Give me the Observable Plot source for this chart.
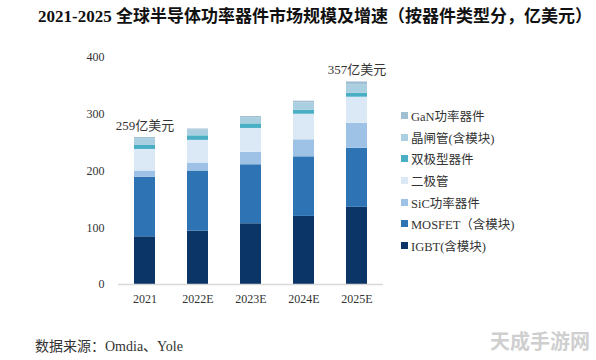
<!DOCTYPE html>
<html><head><meta charset="utf-8">
<script src="https://cdn.jsdelivr.net/npm/d3@7"></script>
<script src="https://cdn.jsdelivr.net/npm/@observablehq/plot@0.6"></script>
<style>
body{margin:0;background:#fff;}
#wrap{position:relative;width:596px;height:360px;overflow:hidden;background:#fff;font-family:"Liberation Serif","Noto Sans CJK SC",serif;}
#title{position:absolute;left:38px;top:2px;font-size:17px;font-weight:bold;color:#111;white-space:nowrap;}
#chart{position:absolute;left:0;top:0;}
#legend{position:absolute;left:401px;top:105px;font-size:12.5px;color:#333;}
#legend .row{height:21.6px;display:flex;align-items:center;white-space:nowrap;}
#legend .sw{width:7px;height:7px;margin-right:3px;}
#source{position:absolute;left:35px;top:335px;font-size:14px;color:#333;white-space:nowrap;}
#wm{position:absolute;left:490px;top:326px;font-size:20px;font-weight:bold;color:#cfcfcf;font-family:"Noto Sans CJK SC",sans-serif;white-space:nowrap;}
</style></head>
<body>
<div id="wrap">
<div id="title">2021-2025 全球半导体功率器件市场规模及增速（按器件类型分，亿美元）</div>
<div id="chart"></div>
<div id="legend"></div>
<div id="source">数据来源：Omdia、Yole</div>
<div id="wm">天成手游网</div>
</div>
<script>
const years = ["2021","2022E","2023E","2024E","2025E"];
const series = ["IGBT(含模块)","MOSFET（含模块)","SiC功率器件","二极管","双极型器件","晶闸管(含模块)","GaN功率器件"];
const colors = ["#0b3566","#2e74b5","#9dc2e5","#dbe9f7","#4aaec4","#a9cfe0","#a0bfd2"];
const igbt    = [84, 94, 107, 120, 136];
const mosfet  = [105, 106, 104, 105, 104];
const sic     = [11, 14, 22, 30, 44];
const diode   = [38, 40, 42, 45, 46];
const bipolar = [7, 8, 8, 7, 7];
const thyristor = [12, 10, 11, 13, 15];
const gan     = [2, 2, 2, 3, 5];
const totals  = [259, 274, 296, 323, 357];
const totalLabels = ["259亿美元", "", "", "", "357亿美元"];
const yTicks = [0, 100, 200, 300, 400];

const cols = [igbt, mosfet, sic, diode, bipolar, thyristor, gan];
const data = [];
series.forEach((s, i) => years.forEach((y, j) => data.push({year: y, series: s, value: cols[i][j]})));
const tot = years.map((y, j) => ({year: y, total: totals[j], label: totalLabels[j]})).filter(d => d.label);

const font = `"Liberation Serif","Noto Sans CJK SC",serif`;
const chart = Plot.plot({
  width: 596, height: 320,
  marginLeft: 118, marginRight: 213, marginTop: 57, marginBottom: 36,
  style: {fontFamily: font, fontSize: "12px", color: "#333", background: "transparent"},
  x: {domain: years, paddingInner: 0.6, paddingOuter: 0.3, label: null, tickSize: 0, tickPadding: 10},
  y: {domain: [0, 400], ticks: yTicks, label: null, tickSize: 0, tickPadding: 14},
  color: {domain: series, range: colors},
  marks: [
    Plot.barY(data, {x: "year", y: "value", fill: "series", order: series}),
    Plot.ruleY([0], {stroke: "#d9d9d9", strokeWidth: 1.5}),
    Plot.text(tot, {x: "year", y: "total", text: "label", dy: -12, fontSize: 13, fill: "#333"})
  ]
});
document.getElementById("chart").appendChild(chart);

const lg = document.getElementById("legend");
for (let i = series.length - 1; i >= 0; i--) {
  const r = document.createElement("div"); r.className = "row";
  const sw = document.createElement("div"); sw.className = "sw"; sw.style.background = colors[i];
  const t = document.createElement("span"); t.textContent = series[i];
  r.appendChild(sw); r.appendChild(t); lg.appendChild(r);
}
</script>
</body></html>
